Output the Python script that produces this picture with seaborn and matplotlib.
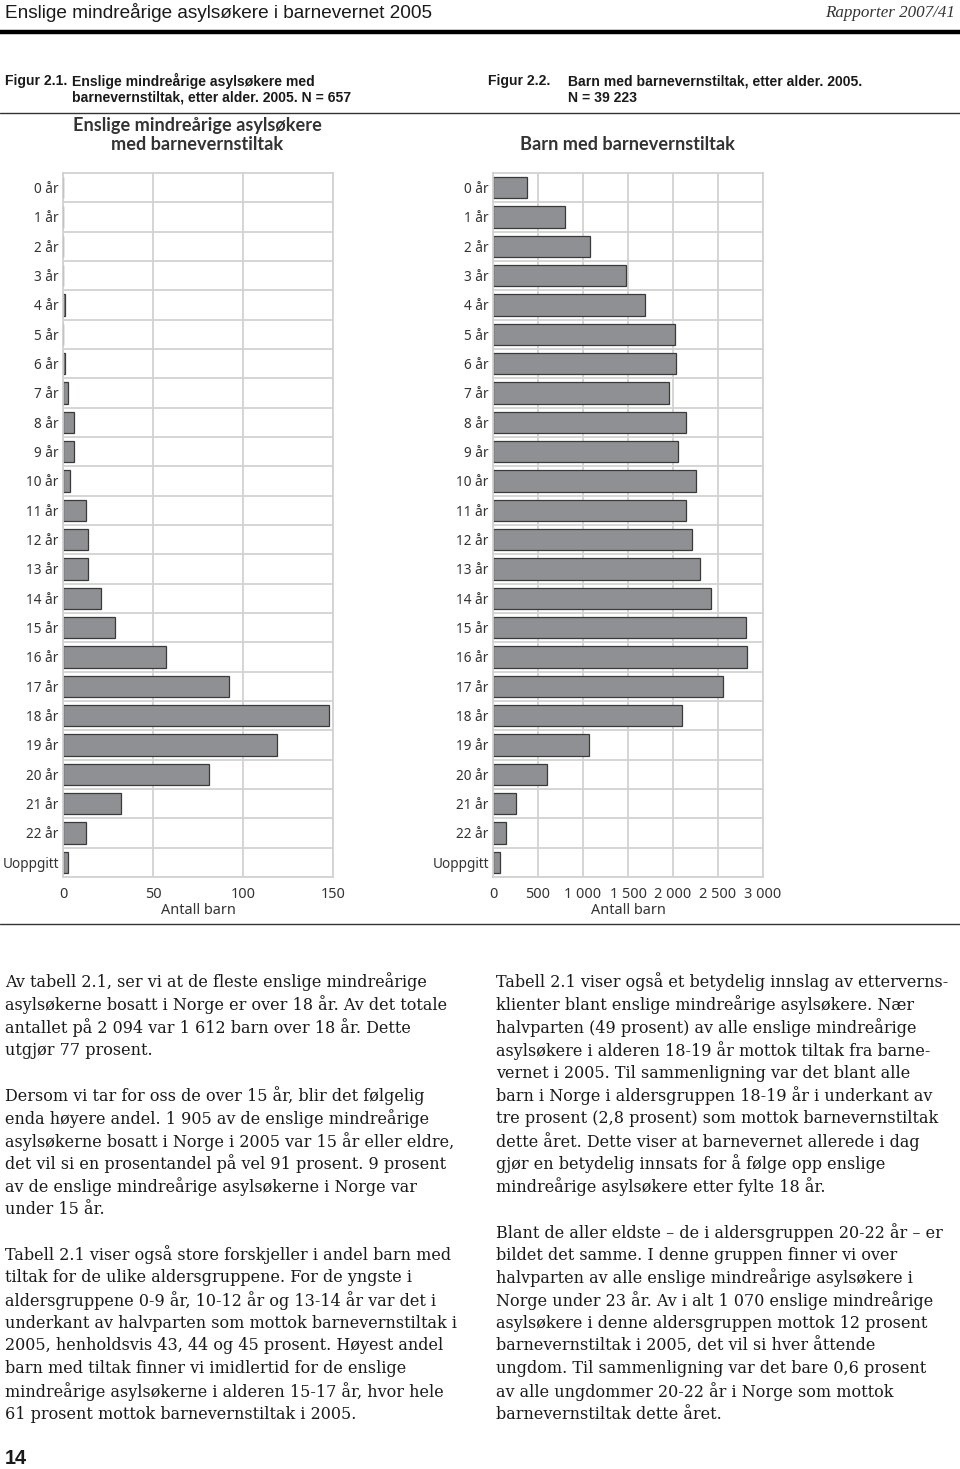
import matplotlib
matplotlib.use('Agg')
import matplotlib.pyplot as plt
import seaborn as sns
import numpy as np

# Data
ages = [f'{i} år' for i in range(23)] + ['Uoppgitt']
asyl_counts = [0, 0, 0, 0, 1, 0, 1, 3, 6, 6, 4, 13, 14, 14, 21, 29, 57, 92, 148, 119, 81, 32, 13, 3]
all_counts = [374, 803, 1080, 1480, 1694, 2024, 2038, 1961, 2149, 2053, 2260, 2142,
              2209, 2301, 2420, 2808, 2823, 2553, 2098, 1069, 596, 252, 144, 81]
left_ticks = [0, 50, 100, 150]
right_ticks = [0, 500, 1000, 1500, 2000, 2500, 3000]
right_ticklabels = ['0', '500', '1 000', '1 500', '2 000', '2 500', '3 000']

left_text = [
    'Av tabell 2.1, ser vi at de fleste enslige mindreårige',
    'asylsøkerne bosatt i Norge er over 18 år. Av det totale',
    'antallet på 2 094 var 1 612 barn over 18 år. Dette',
    'utgjør 77 prosent.',
    '',
    'Dersom vi tar for oss de over 15 år, blir det følgelig',
    'enda høyere andel. 1 905 av de enslige mindreårige',
    'asylsøkerne bosatt i Norge i 2005 var 15 år eller eldre,',
    'det vil si en prosentandel på vel 91 prosent. 9 prosent',
    'av de enslige mindreårige asylsøkerne i Norge var',
    'under 15 år.',
    '',
    'Tabell 2.1 viser også store forskjeller i andel barn med',
    'tiltak for de ulike aldersgruppene. For de yngste i',
    'aldersgruppene 0-9 år, 10-12 år og 13-14 år var det i',
    'underkant av halvparten som mottok barnevernstiltak i',
    '2005, henholdsvis 43, 44 og 45 prosent. Høyest andel',
    'barn med tiltak finner vi imidlertid for de enslige',
    'mindreårige asylsøkerne i alderen 15-17 år, hvor hele',
    '61 prosent mottok barnevernstiltak i 2005.',
]
right_text = [
    'Tabell 2.1 viser også et betydelig innslag av etterverns-',
    'klienter blant enslige mindreårige asylsøkere. Nær',
    'halvparten (49 prosent) av alle enslige mindreårige',
    'asylsøkere i alderen 18-19 år mottok tiltak fra barne-',
    'vernet i 2005. Til sammenligning var det blant alle',
    'barn i Norge i aldersgruppen 18-19 år i underkant av',
    'tre prosent (2,8 prosent) som mottok barnevernstiltak',
    'dette året. Dette viser at barnevernet allerede i dag',
    'gjør en betydelig innsats for å følge opp enslige',
    'mindreårige asylsøkere etter fylte 18 år.',
    '',
    'Blant de aller eldste – de i aldersgruppen 20-22 år – er',
    'bildet det samme. I denne gruppen finner vi over',
    'halvparten av alle enslige mindreårige asylsøkere i',
    'Norge under 23 år. Av i alt 1 070 enslige mindreårige',
    'asylsøkere i denne aldersgruppen mottok 12 prosent',
    'barnevernstiltak i 2005, det vil si hver åttende',
    'ungdom. Til sammenligning var det bare 0,6 prosent',
    'av alle ungdommer 20-22 år i Norge som mottok',
    'barnevernstiltak dette året.',
]

sns.set_style('white')
plt.rcParams['font.family'] = ['Noto Sans', 'DejaVu Sans']

W, H = 960, 1469
fig = plt.figure(figsize=(W / 100, H / 100), dpi=100)


def fy(px):
    return 1 - px / H


def fx(px):
    return px / W


def pt(px):
    return px * 0.72


SANS_NARROW = ['Liberation Sans Narrow', 'Liberation Sans', 'DejaVu Sans']
TEXT = '#1a1a1a'
GRID = '#d2d2d2'

# page header
fig.text(fx(5), fy(13), 'Enslige mindreårige asylsøkere i barnevernet 2005',
         family=SANS_NARROW, fontsize=pt(19), va='center', color=TEXT)
fig.text(fx(955), fy(13), 'Rapporter 2007/41', family=['Liberation Serif'],
         style='italic', fontsize=pt(17), va='center', ha='right', color='#333333')
fig.add_artist(plt.Line2D([0, 1], [fy(31.5)] * 2, color='black', lw=3.2))

# figure captions
cap = dict(family=SANS_NARROW, fontsize=pt(14), va='center', color=TEXT, weight='bold')
fig.text(fx(5), fy(81), 'Figur 2.1.', **cap)
fig.text(fx(72), fy(81), 'Enslige mindreårige asylsøkere med', **cap)
fig.text(fx(72), fy(98), 'barnevernstiltak, etter alder. 2005. N = 657', **cap)
fig.text(fx(488), fy(81), 'Figur 2.2.', **cap)
fig.text(fx(568), fy(81), 'Barn med barnevernstiltak, etter alder. 2005.', **cap)
fig.text(fx(568), fy(98), 'N = 39 223', **cap)
fig.add_artist(plt.Line2D([0, 1], [fy(112.5)] * 2, color='#333333', lw=1.0))

# chart titles
ttl = dict(family=['Lato', 'DejaVu Sans'], fontsize=pt(18.2), ha='center', va='center',
           color='#333333', weight='bold')
fig.text(fx(197), fy(125), 'Enslige mindreårige asylsøkere', **ttl)
fig.text(fx(197), fy(145), 'med barnevernstiltak', **ttl)
fig.text(fx(627), fy(145), 'Barn med barnevernstiltak', **ttl)

top, bottom = 173, 877
panels = [
    (63, asyl_counts, 150, left_ticks, [str(t) for t in left_ticks]),
    (493, all_counts, 3000, right_ticks, right_ticklabels),
]
for x0, vals, xmax, ticks, ticklabels in panels:
    ax = fig.add_axes([fx(x0), fy(bottom), 270 / W, (bottom - top) / H])
    sns.barplot(x=vals, y=ages, ax=ax, orient='h', color='#8e9093',
                edgecolor='#3a3a3a', linewidth=0.9, width=0.72, saturation=1)
    ax.set_xlim(0, xmax)
    ax.set_ylim(len(ages) - 0.5, -0.5)
    ax.set_xticks(ticks)
    ax.set_xticklabels(ticklabels)
    ax.set_yticks(np.arange(len(ages)) + 0.5, minor=True)
    ax.grid(True, axis='x', color=GRID, lw=1.3)
    ax.grid(True, axis='y', which='minor', color=GRID, lw=1.3)
    ax.grid(False, axis='y', which='major')
    ax.set_axisbelow(True)
    for s in ax.spines.values():
        s.set_color(GRID)
        s.set_linewidth(1.3)
    ax.tick_params(axis='y', which='both', length=0, labelsize=pt(13.6),
                   labelcolor='#333333', pad=3)
    ax.tick_params(axis='x', which='both', length=0, labelsize=pt(14.5),
                   labelcolor='#333333', pad=7)
    ax.set_ylabel('')
    ax.set_xlabel('Antall barn', fontsize=pt(14.5), color='#333333', labelpad=1)

fig.add_artist(plt.Line2D([0, 1], [fy(924)] * 2, color='#333333', lw=1.0))

# body text
body = dict(family=['DejaVu Serif'], fontsize=pt(16), va='center', color=TEXT)
step = 22.75
for i, line in enumerate(left_text):
    if line:
        fig.text(fx(5), fy(982 + i * step), line, **body)
for i, line in enumerate(right_text):
    if line:
        fig.text(fx(496), fy(982 + i * step), line, **body)

fig.text(fx(5), fy(1458), '14', family=['Liberation Sans'], fontsize=pt(20),
         weight='bold', va='center', color=TEXT)

fig.savefig('out.png', dpi=100)
